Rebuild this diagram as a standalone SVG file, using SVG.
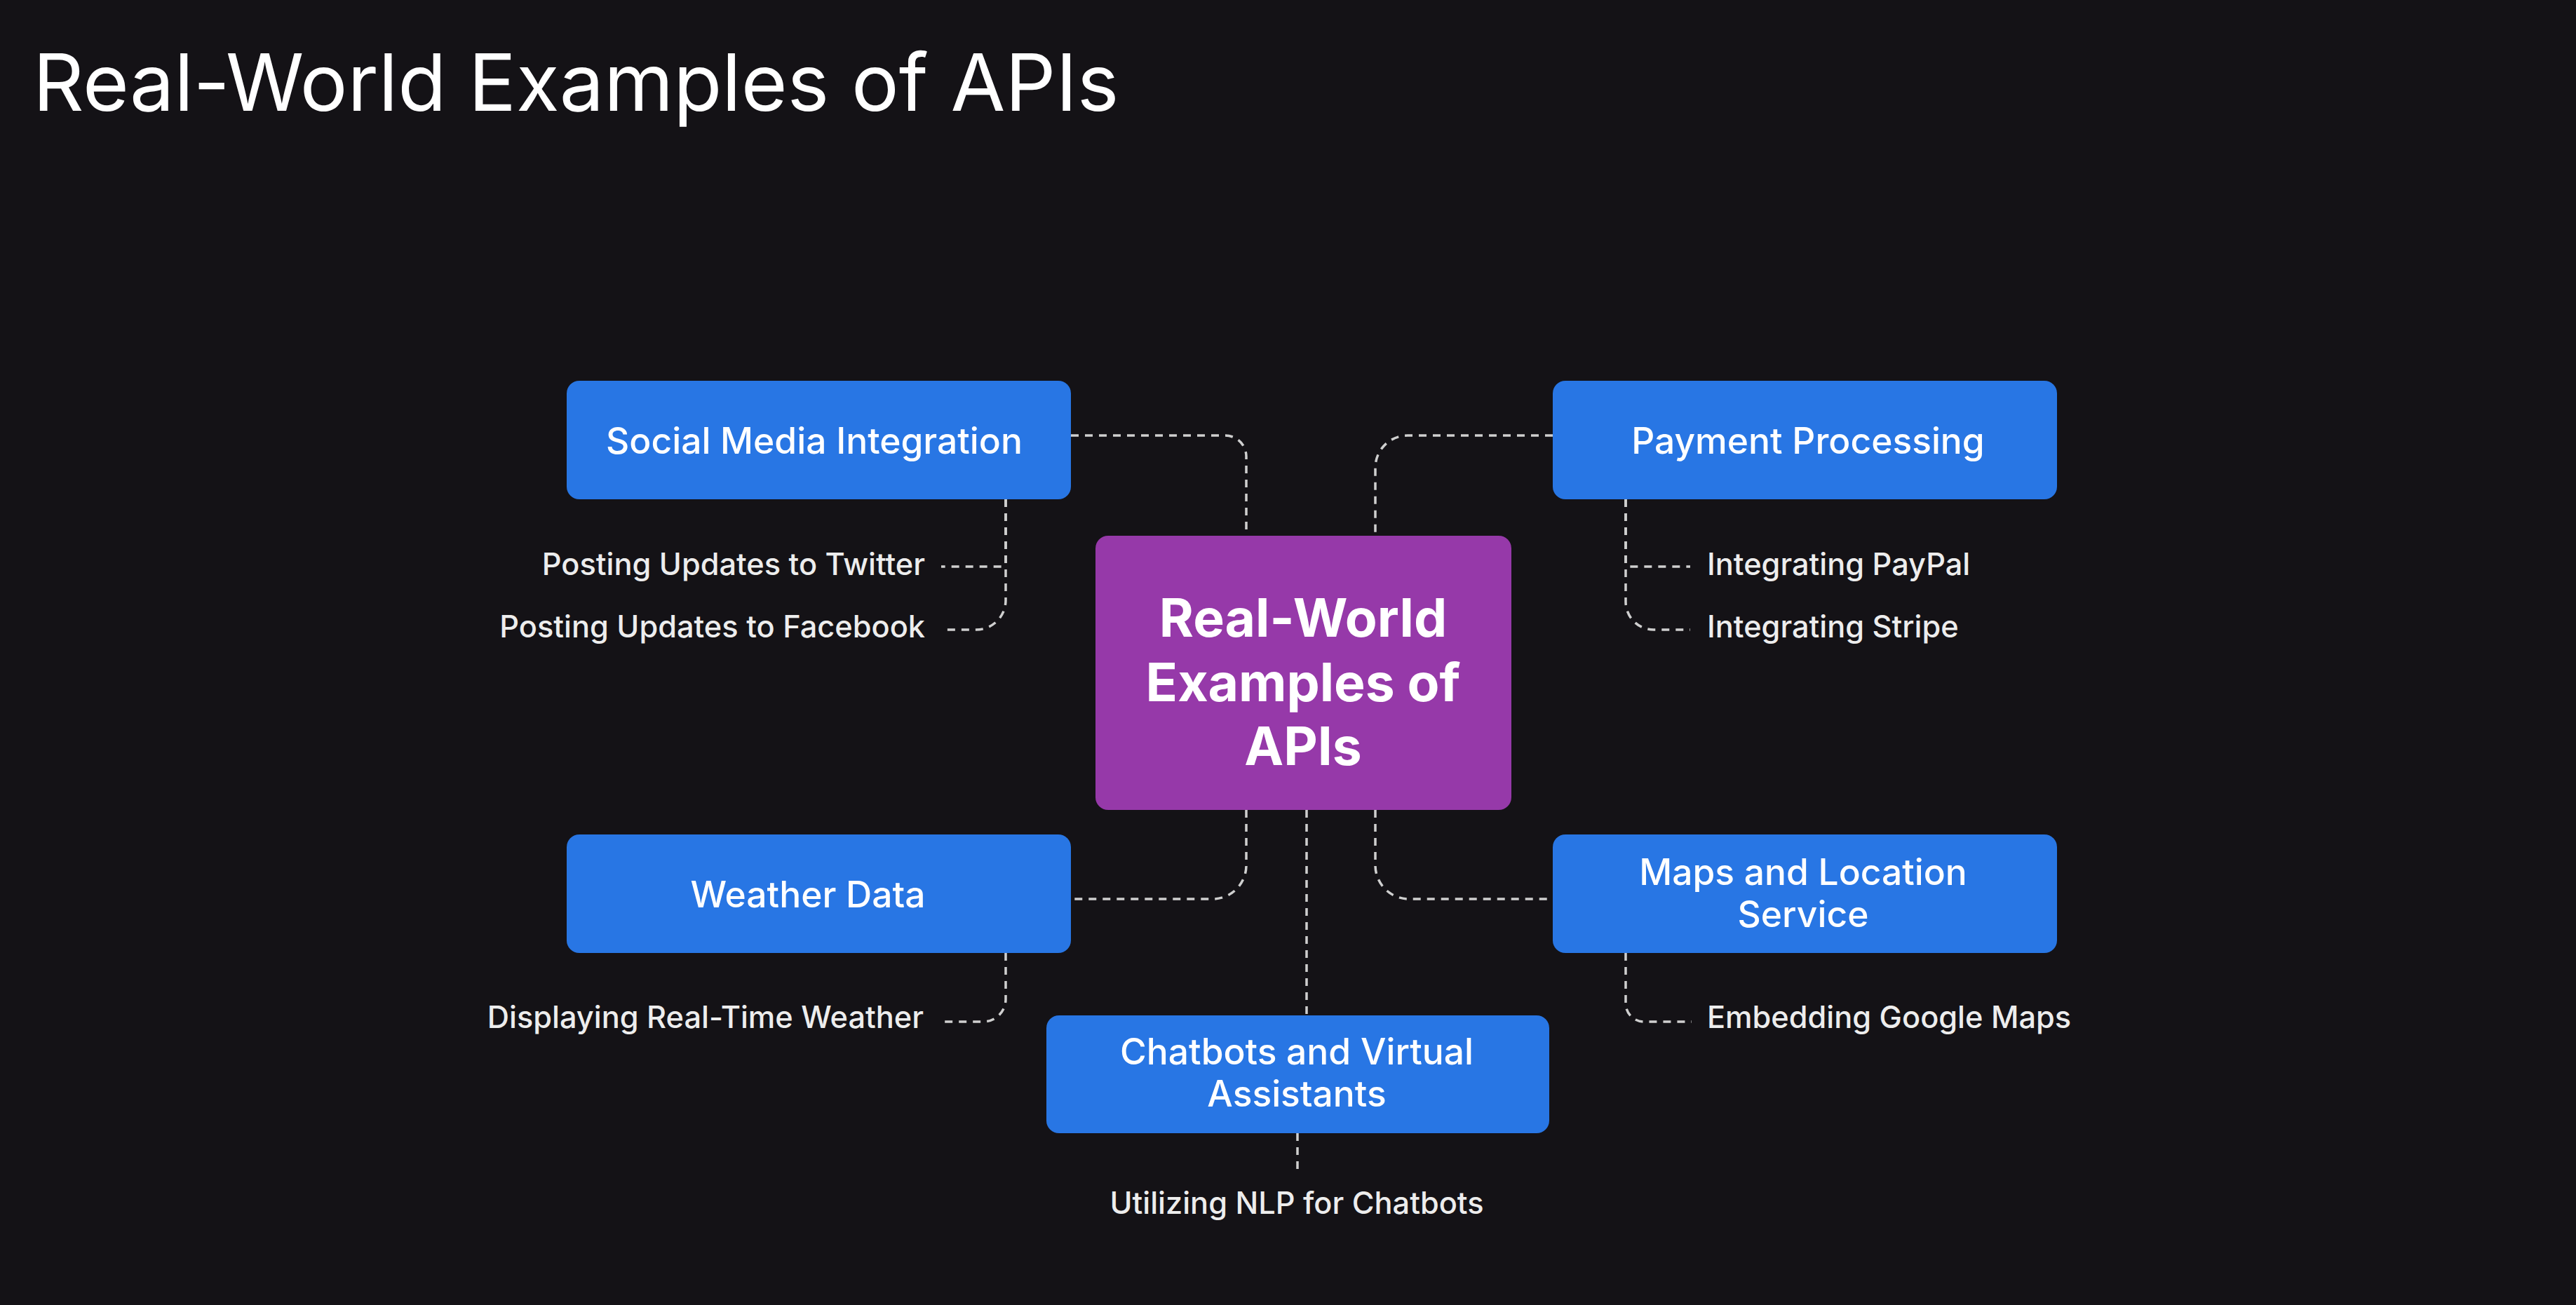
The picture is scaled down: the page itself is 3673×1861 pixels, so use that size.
<svg xmlns="http://www.w3.org/2000/svg" width="3673" height="1861" viewBox="0 0 3673 1861">
<style>
.bg{fill:#141216}
.title{font-family:Inter,"Noto Sans",sans-serif;font-size:113px;font-weight:400;fill:#ffffff}
.blue{fill:#2876e4}
.purple{fill:#9639a9}
.nt{font-family:Inter,"Noto Sans",sans-serif;font-size:51.5px;font-weight:500;fill:#ffffff;text-anchor:middle}
.ct{font-family:Inter,"Noto Sans",sans-serif;font-size:75px;font-weight:700;fill:#ffffff;text-anchor:middle}
.lt{font-family:Inter,"Noto Sans",sans-serif;font-size:43.3px;font-weight:500;fill:#ededed}
.conn path{fill:none;stroke:#cfcfcf;stroke-width:3.5;stroke-dasharray:11 9}
</style>
<rect class="bg" x="0" y="0" width="3673" height="1861"/>
<text class="title" x="47" y="158">Real-World Examples of APIs</text>

<g id="connectors" class="conn">
<path d="M1527,621 H1747 A30,30 0 0 1 1777,651 V764"/>
<path d="M2214,621 H2007 A46,46 0 0 0 1961,667 V764"/>
<path d="M1777,1155 V1234 A48,48 0 0 1 1729,1282 H1527"/>
<path d="M1961,1155 V1234 A48,48 0 0 0 2009,1282 H2214"/>
<path d="M1863,1155 V1448"/>
<path d="M1434,712 V803 A5,5 0 0 1 1429,808 H1342"/>
<path d="M1434,712 V856 A42,42 0 0 1 1392,898 H1342"/>
<path d="M2318,712 V803 A5,5 0 0 0 2323,808 H2410"/>
<path d="M2318,712 V858 A40,40 0 0 0 2358,898 H2410"/>
<path d="M1434,1359 V1425 A32,32 0 0 1 1402,1457 H1342"/>
<path d="M2318,1359 V1431 A26,26 0 0 0 2344,1457 H2412"/>
<path d="M1850,1616 V1669"/>
</g>

<g id="center">
<rect class="purple" x="1562" y="764" width="593" height="391" rx="18"/>
<text class="ct" x="1858" y="908">Real-World</text>
<text class="ct" x="1858" y="1000">Examples of</text>
<text class="ct" x="1858" y="1091">APIs</text>
</g>

<g id="social">
<rect class="blue" x="808" y="543" width="719" height="169" rx="18"/>
<text class="nt" x="1161" y="647">Social Media Integration</text>
</g>
<g id="payment">
<rect class="blue" x="2214" y="543" width="719" height="169" rx="18"/>
<text class="nt" x="2578" y="647">Payment Processing</text>
</g>
<g id="weather">
<rect class="blue" x="808" y="1190" width="719" height="169" rx="18"/>
<text class="nt" x="1152" y="1294">Weather Data</text>
</g>
<g id="maps">
<rect class="blue" x="2214" y="1190" width="719" height="169" rx="18"/>
<text class="nt" x="2571" y="1262">Maps and Location</text>
<text class="nt" x="2571" y="1322">Service</text>
</g>
<g id="chatbots">
<rect class="blue" x="1492" y="1448" width="717" height="168" rx="18"/>
<text class="nt" x="1849" y="1518">Chatbots and Virtual</text>
<text class="nt" x="1849" y="1578">Assistants</text>
</g>

<g id="leaf-twitter"><text class="lt" x="1319" y="820" text-anchor="end">Posting Updates to Twitter</text></g>
<g id="leaf-facebook"><text class="lt" x="1319" y="909" text-anchor="end">Posting Updates to Facebook</text></g>
<g id="leaf-paypal"><text class="lt" x="2434" y="820">Integrating PayPal</text></g>
<g id="leaf-stripe"><text class="lt" x="2434" y="909">Integrating Stripe</text></g>
<g id="leaf-weather"><text class="lt" x="1317" y="1466" text-anchor="end">Displaying Real-Time Weather</text></g>
<g id="leaf-maps"><text class="lt" x="2434" y="1466">Embedding Google Maps</text></g>
<g id="leaf-nlp"><text class="lt" x="1849" y="1731" text-anchor="middle">Utilizing NLP for Chatbots</text></g>
</svg>
